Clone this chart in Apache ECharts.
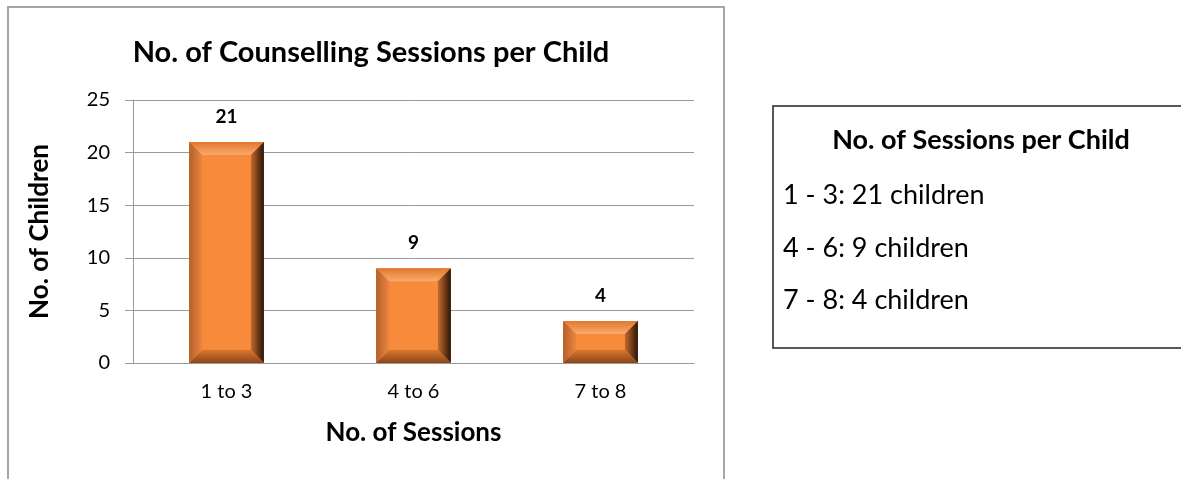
<!DOCTYPE html>
<html>
<head>
<meta charset="utf-8">
<script src="https://cdn.jsdelivr.net/npm/echarts@6/dist/echarts.min.js"></script>
<style>
html,body{margin:0;padding:0;background:#fff;}
#chart{width:1181px;height:479px;}
</style>
</head>
<body>
<div id="chart"></div>
<script>
const chartTitle = 'No. of Counselling Sessions per Child';
const categories = ['1 to 3', '4 to 6', '7 to 8'];
const childCounts = [21, 9, 4];
const yAxisName = 'No. of Children';
const xAxisName = 'No. of Sessions';
const yTicks = [0, 5, 10, 15, 20, 25];
const noteTitle = 'No. of Sessions per Child';
const noteLines = ['1 - 3: 21 children', '4 - 6: 9 children', '7 - 8: 4 children'];

const FONT = 'Lato, "Open Sans", sans-serif';
const chart = echarts.init(document.getElementById('chart'), null, {renderer: 'canvas'});

function grad(x, y, x2, y2, c1, c2) {
  return {type: 'linear', x: x, y: y, x2: x2, y2: y2, colorStops: [{offset: 0, color: c1}, {offset: 1, color: c2}]};
}

function renderBar(params, api) {
  const idx = api.value(0);
  const val = api.value(1);
  const top = api.coord([idx, val]);
  const base = api.coord([idx, 0]);
  const w = api.size([1, 0])[0] * 0.4;
  const x0 = top[0] - w / 2, x1 = top[0] + w / 2;
  const y0 = top[1], y1 = base[1];
  const h = y1 - y0;
  const b = Math.min(13, w / 4, h / 3);
  const main = '#F88A3B';
  return {
    type: 'group',
    children: [
      {type: 'rect', shape: {x: x0, y: y0, width: w, height: h}, style: {fill: main}},
      {type: 'polygon', shape: {points: [[x0, y0], [x1, y0], [x1 - b, y0 + b], [x0 + b, y0 + b]]},
        style: {fill: grad(0, 0, 0, 1, '#E07830', '#FBAA6C')}},
      {type: 'polygon', shape: {points: [[x0, y0], [x0 + b, y0 + b], [x0 + b, y1 - b], [x0, y1]]},
        style: {fill: grad(0, 0, 1, 0, '#B4602A', '#EC8540')}},
      {type: 'polygon', shape: {points: [[x1, y0], [x1, y1], [x1 - b, y1 - b], [x1 - b, y0 + b]]},
        style: {fill: grad(0, 0, 1, 0, '#C46A2E', '#2A1406')}},
      {type: 'polygon', shape: {points: [[x0, y1], [x1, y1], [x1 - b, y1 - b], [x0 + b, y1 - b]]},
        style: {fill: grad(0, 0, 0, 1, '#D9772F', '#8A4518')}},
      {type: 'text', style: {text: String(val), x: top[0], y: y0 - 16, align: 'center', verticalAlign: 'bottom',
        font: 'bold 19px ' + FONT, fill: '#000'}}
    ]
  };
}

const option = {
  animation: false,
  backgroundColor: '#fff',
  title: {
    text: chartTitle,
    left: 366, top: 33, textAlign: 'center',
    textStyle: {fontFamily: FONT, fontWeight: 'bold', fontSize: 29, color: '#000'}
  },
  grid: {left: 133, right: 487, top: 100, bottom: 116, containLabel: false},
  xAxis: {
    type: 'category',
    data: categories,
    name: xAxisName,
    nameLocation: 'middle',
    nameGap: 57,
    nameTextStyle: {fontFamily: FONT, fontWeight: 'bold', fontSize: 26, color: '#000'},
    axisLine: {lineStyle: {color: '#9a9a9a', width: 1}},
    axisTick: {show: false},
    axisLabel: {fontFamily: FONT, fontSize: 20, color: '#000', margin: 19}
  },
  yAxis: {
    type: 'value',
    min: yTicks[0], max: yTicks[yTicks.length - 1], interval: yTicks[1] - yTicks[0],
    name: yAxisName,
    nameLocation: 'middle',
    nameGap: 80,
    nameTextStyle: {fontFamily: FONT, fontWeight: 'bold', fontSize: 26, color: '#000'},
    axisLine: {show: true, lineStyle: {color: '#9a9a9a', width: 1}},
    axisTick: {show: true, length: 8, inside: false, lineStyle: {color: '#9a9a9a'}},
    splitLine: {lineStyle: {color: '#9a9a9a', width: 1}},
    axisLabel: {fontFamily: FONT, fontSize: 20, color: '#000', margin: 23}
  },
  series: [{
    type: 'custom',
    renderItem: renderBar,
    data: childCounts.map((v, i) => [i, v]),
    encode: {x: 0, y: 1}
  }],
  graphic: [
    {type: 'rect', shape: {x: 8, y: 7, width: 716, height: 500}, style: {fill: 'none', stroke: '#a6a6a6', lineWidth: 2}, z: -10},
    {type: 'rect', shape: {x: 773, y: 106, width: 420, height: 242}, style: {fill: '#fff', stroke: '#222', lineWidth: 1.5}},
    {type: 'text', style: {text: noteTitle, x: 981, y: 140, align: 'center', verticalAlign: 'middle', font: 'bold 27px ' + FONT, fill: '#000'}},
    {type: 'text', style: {text: noteLines[0], x: 783, y: 195, align: 'left', verticalAlign: 'middle', font: '27px ' + FONT, fill: '#000'}},
    {type: 'text', style: {text: noteLines[1], x: 783, y: 248, align: 'left', verticalAlign: 'middle', font: '27px ' + FONT, fill: '#000'}},
    {type: 'text', style: {text: noteLines[2], x: 783, y: 300, align: 'left', verticalAlign: 'middle', font: '27px ' + FONT, fill: '#000'}}
  ]
};
chart.setOption(option);
</script>
</body>
</html>
